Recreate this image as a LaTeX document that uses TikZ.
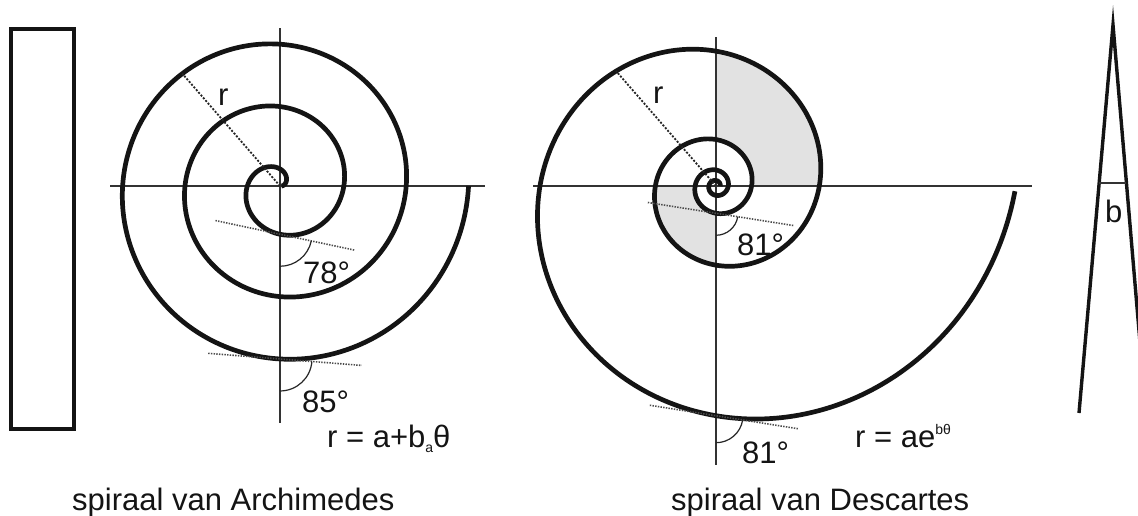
\documentclass[tikz,border=0pt]{standalone}
\usepackage{fontspec}
\setmainfont{Liberation Sans}
\definecolor{shadegray}{RGB}{226,226,226}
\definecolor{inkc}{RGB}{20,20,20}
\begin{document}
\begin{tikzpicture}[x=1pt,y=-1pt,
  declare function={ra(\t)=1.5+0.1732*\t; rd(\t)=176*exp(0.0029671*(\t-900));},
  spiralline/.style={line width=4.7pt, draw=inkc},
  axisline/.style={line width=1.4pt, draw=black!80},
  tangline/.style={line width=1.6pt, draw=black!70, dash pattern=on 1.4pt off 1.3pt},
  radline/.style={line width=1.8pt, draw=black!85, dash pattern=on 2pt off 1.6pt},
  anglearc/.style={line width=1.2pt, draw=black!85},
  lbl/.style={inner sep=0pt, font=\fontsize{31}{36}\selectfont, text=inkc},
  shadefill/.style={fill=shadegray},
  framebox/.style={line width=3.2pt, draw=inkc},
  legline/.style={line width=3.4pt, draw=inkc, line join=miter, miter limit=20}]
\clip (0,0) rectangle (1138,515);
\fill[white] (0,0) rectangle (1138,515);

% ---------- left bar ----------
\draw[framebox] (11,29) rectangle (74,429);

% ---------- Archimedes ----------
\coordinate (Ac) at (280,186);
\coordinate (AxL) at (110,186);
\coordinate (AxR) at (485,186);
\coordinate (AyT) at (280,28);
\coordinate (AyB) at (280,423);
\coordinate (At1) at (280,{186+ra(270)});
\coordinate (At2) at (280,{186+ra(990)});
\coordinate (Ar) at ({280+ra(851)*cos(851)},{186-ra(851)*sin(851)});

\draw[axisline] (AxL) -- (AxR);
\draw[axisline] (AyT) -- (AyB);
\draw[spiralline] plot[domain=0:1080, samples=500, variable=\t, smooth]
  ({280+ra(\t)*cos(\t)},{186-ra(\t)*sin(\t)});
\draw[radline] (Ac) -- (Ar);
\draw[tangline] (At1) ++(192:66) -- ++(12:143);
\draw[anglearc] (At1) ++(90:32) arc[start angle=90, end angle=12, radius=32];
\draw[tangline] (At2) ++(184.5:72) -- ++(4.5:154);
\draw[anglearc] (At2) ++(90:32) arc[start angle=90, end angle=4.5, radius=32];

\node[lbl, anchor=base west] (lAr) at (218,105) {r};
\node[lbl, anchor=base west] (l78) at (303,283) {78°};
\node[lbl, anchor=base west] (l85) at (302,412) {85°};
\node[lbl, anchor=base west] (fA) at (327,447)
  {r = a+b\raisebox{-5pt}{\fontsize{14}{14}\selectfont a}θ};
\node[lbl, anchor=base west] (tA) at (72,510) {spiraal van Archimedes};

% ---------- Descartes ----------
\coordinate (Dc) at (716,186);
\coordinate (DxL) at (533,186);
\coordinate (DxR) at (1032,186);
\coordinate (DyT) at (716,37);
\coordinate (DyB) at (716,465);
\coordinate (Dt1) at (716,{186+rd(270)});
\coordinate (Dt2) at (716,{186+rd(990)});
\coordinate (Dr) at ({716+rd(851)*cos(851)},{186-rd(851)*sin(851)});

\fill[shadefill]
  plot[domain=720:810, samples=60, variable=\t] ({716+rd(\t)*cos(\t)},{186-rd(\t)*sin(\t)})
  -- plot[domain=450:360, samples=60, variable=\t] ({716+rd(\t)*cos(\t)},{186-rd(\t)*sin(\t)})
  -- cycle;
\fill[shadefill]
  plot[domain=540:630, samples=60, variable=\t] ({716+rd(\t)*cos(\t)},{186-rd(\t)*sin(\t)})
  -- plot[domain=270:180, samples=60, variable=\t] ({716+rd(\t)*cos(\t)},{186-rd(\t)*sin(\t)})
  -- cycle;

\draw[axisline] (DxL) -- (DxR);
\draw[axisline] (DyT) -- (DyB);
\draw[spiralline] plot[domain=-360:1079, samples=700, variable=\t, smooth]
  ({716+rd(\t)*cos(\t)},{186-rd(\t)*sin(\t)});
\draw[radline] (Dc) -- (Dr);
\draw[tangline] (Dt1) ++(189:69) -- ++(9:148);
\draw[anglearc] (Dt1) ++(90:22) arc[start angle=90, end angle=9, radius=22];
\draw[tangline] (Dt2) ++(189:67) -- ++(9:150);
\draw[anglearc] (Dt2) ++(90:27) arc[start angle=90, end angle=9, radius=27];

\node[lbl, anchor=base west] (lDr) at (653,103) {r};
\node[lbl, anchor=base west] (l81a) at (737,255) {81°};
\node[lbl, anchor=base west] (l81b) at (742,463) {81°};
\node[lbl, anchor=base west] (fD) at (855,447)
  {r = ae\raisebox{13pt}{\fontsize{14}{14}\selectfont bθ}};
\node[lbl, anchor=base west] (tD) at (671,510) {spiraal van Descartes};

% ---------- wedge ----------
\coordinate (Wl) at (1079,413);
\coordinate (Wt) at (1113,25);
\coordinate (Wr) at (1146,413);
\coordinate (Bl) at (1099.2,183);
\coordinate (Br) at (1126.4,183);
\draw[legline] (Wl) -- (Wt) -- (Wr);
\draw[axisline] (Bl) -- (Br);
\node[lbl, anchor=base west] (lb) at (1105,222) {b};
\end{tikzpicture}
\end{document}
